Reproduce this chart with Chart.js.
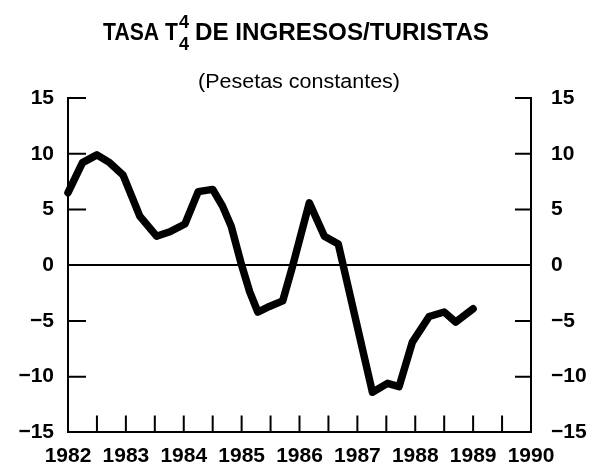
<!DOCTYPE html>
<html>
<head>
<meta charset="utf-8">
<script src="https://cdn.jsdelivr.net/npm/chart.js@4"></script>
<style>
  html, body { margin: 0; padding: 0; background: #fff; }
  #wrap { width: 589px; height: 465px; }
</style>
</head>
<body>
<div id="wrap"><canvas id="lineChart" width="589" height="465"></canvas></div>
<script>
// fechas (años decimales) y tasa T4/4
const fechas = [1982.0, 1982.25, 1982.5, 1982.72, 1982.95, 1983.1, 1983.24, 1983.53, 1983.76, 1984.02,
  1984.25, 1984.5, 1984.67, 1984.82, 1985.0, 1985.14, 1985.28, 1985.48, 1985.71, 1985.88,
  1986.17, 1986.43, 1986.67, 1987.26, 1987.52, 1987.72, 1987.95, 1988.24, 1988.5, 1988.7, 1989.0];
const tasa = [6.5, 9.2, 9.9, 9.2, 8.1, 6.2, 4.4, 2.6, 3.0, 3.7,
  6.6, 6.8, 5.3, 3.5, 0.0, -2.4, -4.2, -3.7, -3.2, -0.1,
  5.6, 2.6, 1.9, -11.4, -10.6, -10.9, -6.9, -4.6, -4.2, -5.1, -3.9];
const anios = [1982, 1983, 1984, 1985, 1986, 1987, 1988, 1989, 1990];
const yTicks = [-15, -10, -5, 0, 5, 10, 15];

const puntos = fechas.map(function (f, i) { return { x: f, y: tasa[i] }; });

function etiquetaY(v) {
  return v < 0 ? '\u2212' + Math.abs(v) : String(v);
}

// escribe un texto estirado horizontalmente hasta el ancho pedido
function textoAncho(ctx, txt, x, y, ancho) {
  const w = ctx.measureText(txt).width;
  ctx.save();
  ctx.translate(x, y);
  ctx.scale(ancho / w, 1);
  ctx.fillText(txt, 0, 0);
  ctx.restore();
}

// titulo con T superindice/subindice 4
const titulo = {
  id: 'titulo',
  afterDraw(chart) {
    const ctx = chart.ctx;
    ctx.save();
    ctx.fillStyle = '#000';
    ctx.textBaseline = 'alphabetic';
    ctx.textAlign = 'left';
    ctx.font = 'bold 23px "Liberation Sans", Arial, sans-serif';
    textoAncho(ctx, 'TASA T', 103, 40, 75);
    ctx.font = 'bold 18px "Liberation Sans", Arial, sans-serif';
    ctx.fillText('4', 179, 28);
    ctx.fillText('4', 179, 50);
    ctx.font = 'bold 23px "Liberation Sans", Arial, sans-serif';
    textoAncho(ctx, 'DE INGRESOS/TURISTAS', 195, 40, 294);
    ctx.font = '20px "Liberation Sans", Arial, sans-serif';
    textoAncho(ctx, '(Pesetas constantes)', 198, 88, 202);
    ctx.restore();
  }
};

// marcas hacia dentro en los tres ejes
const marcas = {
  id: 'marcas',
  afterDraw(chart) {
    const ctx = chart.ctx;
    const x = chart.scales.x;
    const y = chart.scales.y;
    const a = chart.chartArea;
    ctx.save();
    ctx.strokeStyle = '#000';
    ctx.lineWidth = 2;
    ctx.beginPath();
    yTicks.forEach(function (v) {
      if (v === 0 || v === -15) return;
      const py = y.getPixelForValue(v);
      ctx.moveTo(a.left, py);
      ctx.lineTo(a.left + 18, py);
      ctx.moveTo(a.right, py);
      ctx.lineTo(a.right - 16, py);
    });
    for (let t = 1982.5; t < 1990; t += 0.5) {
      const px = x.getPixelForValue(t);
      ctx.moveTo(px, a.bottom);
      ctx.lineTo(px, a.bottom - 17);
    }
    ctx.stroke();
    ctx.restore();
  }
};

new Chart(document.getElementById('lineChart'), {
  type: 'line',
  data: {
    datasets: [{
      label: 'Tasa',
      data: puntos,
      borderColor: '#000',
      borderWidth: 7.5,
      borderJoinStyle: 'round',
      borderCapStyle: 'round',
      pointRadius: 0,
      tension: 0,
      fill: false,
      clip: false
    }]
  },
  options: {
    responsive: false,
    animation: false,
    layout: { padding: { top: 98, left: 0, right: 0, bottom: 0 } },
    plugins: {
      legend: { display: false },
      tooltip: { enabled: false }
    },
    scales: {
      x: {
        type: 'linear',
        min: 1982,
        max: 1990,
        afterBuildTicks: function (s) { s.ticks = anios.map(function (v) { return { value: v }; }); },
        afterFit: function (s) { s.height = 32; },
        grid: { display: false, drawTicks: false },
        border: { display: true, color: '#000', width: 2 },
        ticks: {
          color: '#000',
          padding: 11,
          maxRotation: 0,
          autoSkip: false,
          font: { family: '"Liberation Sans", Arial, sans-serif', size: 21, weight: 'bold' },
          callback: function (v) { return String(v); }
        }
      },
      y: {
        position: 'left',
        min: -15,
        max: 15,
        afterBuildTicks: function (s) { s.ticks = yTicks.map(function (v) { return { value: v }; }); },
        afterFit: function (s) { s.width = 68; },
        grid: {
          drawTicks: false,
          lineWidth: 2,
          color: function (c) { return c.tick && c.tick.value === 0 ? '#000' : 'rgba(0,0,0,0)'; }
        },
        border: { display: true, color: '#000', width: 2 },
        ticks: {
          color: '#000',
          padding: 14,
          font: { family: '"Liberation Sans", Arial, sans-serif', size: 21, weight: 'bold' },
          callback: etiquetaY
        }
      },
      y2: {
        position: 'right',
        min: -15,
        max: 15,
        afterBuildTicks: function (s) { s.ticks = yTicks.map(function (v) { return { value: v }; }); },
        afterFit: function (s) { s.width = 58; },
        grid: { display: false, drawTicks: false },
        border: { display: true, color: '#000', width: 2 },
        ticks: {
          color: '#000',
          padding: 20,
          font: { family: '"Liberation Sans", Arial, sans-serif', size: 21, weight: 'bold' },
          callback: etiquetaY
        }
      }
    }
  },
  plugins: [titulo, marcas]
});
</script>
</body>
</html>
